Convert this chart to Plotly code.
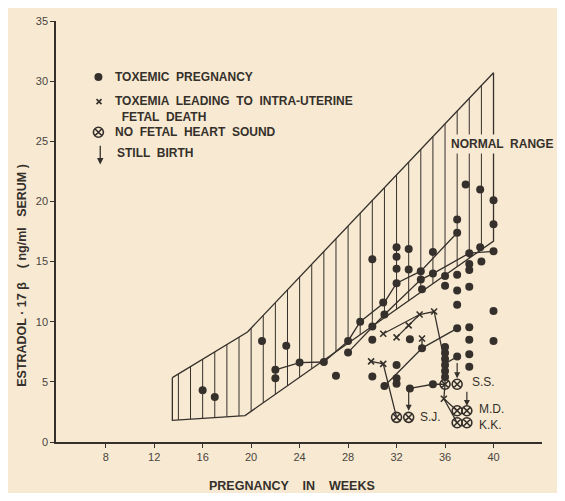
import numpy as np
import plotly.graph_objects as go

# ---------------- data ----------------
# normal range envelope
upper_weeks = [13.5, 19.7, 40.0]
upper_vals = [5.35, 9.15, 30.7]
lower_weeks = [13.5, 19.5, 40.0]
lower_vals = [1.8, 2.2, 16.7]
hatch_weeks = list(range(14, 40))

# toxemic pregnancy (filled dots)
dot_weeks = [16.0, 17.0, 20.9, 22.0, 22.0, 22.9, 24.0, 26.0, 27.0, 28.0, 28.0, 29.0,
             30.0, 30.0, 30.0, 30.0, 30.9, 31.0, 31.0,
             32.0, 32.0, 32.0, 32.0, 32.0, 32.0, 32.0,
             33.0, 33.0, 33.1, 33.1, 34.0, 34.0, 34.1, 34.1, 35.0, 35.0, 35.0,
             36.0, 36.0, 36.0, 36.0, 36.0, 36.0, 36.0, 36.0,
             37.0, 37.0, 37.0, 37.0, 37.0, 37.0, 37.0, 37.7,
             38.0, 38.0, 38.0, 38.0, 38.0, 38.0, 38.0, 38.0,
             38.9, 38.9, 39.0, 40.0, 40.0, 40.0, 40.0, 40.0]
dot_vals = [4.3, 3.75, 8.4, 6.0, 5.3, 8.0, 6.6, 6.65, 5.5, 8.4, 7.45, 10.0,
            15.2, 9.6, 8.5, 5.45, 11.6, 10.6, 4.65,
            16.2, 15.4, 14.4, 13.2, 6.4, 5.3, 4.85,
            16.05, 14.35, 8.55, 4.45, 14.2, 13.5, 12.7, 7.8, 15.8, 14.0, 4.8,
            13.8, 13.0, 7.9, 7.4, 6.9, 6.4, 5.9, 5.4,
            18.5, 17.4, 13.9, 12.6, 11.4, 9.45, 7.1, 21.4,
            15.7, 14.8, 14.3, 12.9, 9.55, 8.5, 7.3, 6.25,
            21.0, 16.2, 15.0, 20.1, 18.1, 15.85, 10.9, 8.4]

# toxemia leading to intra-uterine fetal death (x)
fd_weeks = [29.9, 30.9, 30.9, 32.0, 33.0, 33.9, 35.1, 34.1, 35.9]
fd_vals = [6.7, 6.5, 9.0, 8.7, 9.7, 10.6, 10.85, 8.6, 3.6]

# no fetal heart sound (circled x)
nfhs_weeks = [32.0, 33.0, 36.0, 37.0, 37.0, 37.8, 37.0, 37.8]
nfhs_vals = [2.05, 2.05, 4.8, 4.8, 2.6, 2.6, 1.6, 1.6]

# serial measurements (connected)
series = [
    ([22.0, 24.0, 26.0], [6.0, 6.6, 6.65]),
    ([26.0, 28.0, 29.0, 31.0, 32.0, 34.0, 37.0], [6.65, 8.4, 10.0, 11.6, 13.2, 14.2, 17.4]),
    ([28.0, 31.0, 34.0, 35.0, 38.0, 40.0], [7.45, 10.6, 13.5, 14.0, 15.7, 15.85]),
    ([30.9, 33.9, 35.1, 35.7, 36.0, 36.0, 35.9, 37.0], [9.0, 10.6, 10.85, 8.0, 6.5, 4.8, 3.6, 2.6]),
    ([32.0, 33.0, 33.9], [8.7, 9.7, 10.6]),
    ([29.9, 30.9, 32.0], [6.7, 6.5, 2.05]),
    ([31.0, 34.1, 34.1], [4.65, 7.8, 8.6]),
    ([34.1, 37.0], [7.8, 9.45]),
    ([33.1, 35.0, 36.0], [4.45, 4.8, 4.8]),
    ([36.0, 37.0], [6.5, 7.1]),
    ([35.9, 37.0], [3.6, 1.6]),
    ([36.0, 36.0], [7.9, 5.4]),
]

# still birth arrows: (week, from, to)
arrow_weeks = [33.0, 37.0, 37.8]
arrow_from = [4.4, 6.7, 4.3]
arrow_to = [2.6, 5.3, 3.0]

case_labels = ["S.J.", "S.S.", "M.D.<br>K.K."]
case_weeks = [33.8, 38.1, 38.6]
case_vals = [2.05, 4.95, 2.1]

x_ticks = [8, 12, 16, 20, 24, 28, 32, 36, 40]
y_ticks = [0, 5, 10, 15, 20, 25, 30, 35]

# ---------------- figure ----------------
BG = "#f8ead2"
INK = "#35302b"
FONT = "Liberation Sans"

fig = go.Figure()

# envelope outline
env_x = upper_weeks + lower_weeks[::-1] + [upper_weeks[0]]
env_y = upper_vals + lower_vals[::-1] + [upper_vals[0]]
fig.add_trace(go.Scatter(x=env_x, y=env_y, mode="lines",
                         line=dict(color=INK, width=1.3), hoverinfo="skip"))

# vertical hatching
hx, hy = [], []
for w in hatch_weeks:
    lo = float(np.interp(w, lower_weeks, lower_vals))
    hi = float(np.interp(w, upper_weeks, upper_vals))
    hx += [w, w, None]
    hy += [lo, hi, None]
fig.add_trace(go.Scatter(x=hx, y=hy, mode="lines",
                         line=dict(color=INK, width=1.0), hoverinfo="skip"))

# connecting lines
for sx, sy in series:
    fig.add_trace(go.Scatter(x=sx, y=sy, mode="lines",
                             line=dict(color=INK, width=1.3), hoverinfo="skip"))

# markers
fig.add_trace(go.Scatter(x=dot_weeks, y=dot_vals, mode="markers",
                         marker=dict(symbol="circle", size=8, color=INK)))
fig.add_trace(go.Scatter(x=fd_weeks, y=fd_vals, mode="markers",
                         marker=dict(symbol="x-thin-open", size=6, color=INK,
                                     line=dict(color=INK, width=1.6))))
fig.add_trace(go.Scatter(x=nfhs_weeks, y=nfhs_vals, mode="markers",
                         marker=dict(symbol="circle-x-open", size=10, color=INK,
                                     line=dict(color=INK, width=1.6))))

# legend symbols
fig.add_trace(go.Scatter(x=[7.4], y=[30.35], mode="markers",
                         marker=dict(symbol="circle", size=8, color=INK)))
fig.add_trace(go.Scatter(x=[7.45], y=[28.3], mode="markers",
                         marker=dict(symbol="x-thin-open", size=5, color=INK,
                                     line=dict(color=INK, width=1.6))))
fig.add_trace(go.Scatter(x=[7.4], y=[25.75], mode="markers",
                         marker=dict(symbol="circle-x-open", size=10, color=INK,
                                     line=dict(color=INK, width=1.6))))

annotations = []
tfont = dict(family=FONT, size=12, color=INK)
bfont = dict(family=FONT, size=12, color=INK, weight="bold")

legend_text = [
    (8.6, 30.35, "TOXEMIC  PREGNANCY"),
    (8.6, 27.7, "TOXEMIA  LEADING  TO  INTRA-UTERINE<br>&nbsp;&nbsp;FETAL  DEATH"),
    (8.6, 25.75, "NO  FETAL  HEART  SOUND"),
    (8.75, 24.0, "STILL  BIRTH"),
]
for lx, ly, lt in legend_text:
    annotations.append(dict(x=lx, y=ly, xref="x", yref="y", text=lt, showarrow=False,
                            xanchor="left", yanchor="middle", align="left", font=bfont))

# legend arrow
annotations.append(dict(x=7.55, y=23.06, ax=7.55, ay=24.75, xref="x", yref="y",
                        axref="x", ayref="y", text="", showarrow=True, arrowhead=2,
                        arrowsize=1, arrowwidth=1.3, arrowcolor=INK))

# still birth arrows
for aw, af, at in zip(arrow_weeks, arrow_from, arrow_to):
    annotations.append(dict(x=aw, y=at, ax=aw, ay=af, xref="x", yref="y",
                            axref="x", ayref="y", text="", showarrow=True, arrowhead=2,
                            arrowsize=1, arrowwidth=1.2, arrowcolor=INK))

for cl, cw, cv in zip(case_labels, case_weeks, case_vals):
    annotations.append(dict(x=cw, y=cv, xref="x", yref="y", text=cl, showarrow=False,
                            xanchor="left", yanchor="middle", align="left", font=tfont))

annotations.append(dict(x=40.7, y=24.8, xref="x", yref="y", text="NORMAL  RANGE",
                        showarrow=False, xanchor="center", yanchor="middle",
                        font=bfont, bgcolor=BG, borderpad=2))

annotations.append(dict(x=23.4, y=-0.105, xref="x", yref="paper",
                        text="PREGNANCY    IN    WEEKS", showarrow=False,
                        xanchor="center", yanchor="middle",
                        font=dict(family=FONT, size=12.5, color=INK, weight="bold")))
annotations.append(dict(x=-0.07, y=13.9, xref="paper", yref="y",
                        text="ESTRADOL · 17 β    ( ng/ml   SERUM )", showarrow=False,
                        textangle=-90, xanchor="center", yanchor="middle",
                        font=dict(family=FONT, size=12.5, color=INK, weight="bold")))

# the page body has an 8px default margin; size the figure to fit inside it
fig.update_layout(
    width=549, height=485,
    margin=dict(l=48, r=15, t=7, b=51),
    paper_bgcolor=BG, plot_bgcolor=BG,
    showlegend=False,
    annotations=annotations,
    xaxis=dict(range=[3.9, 44], tickvals=x_ticks, showgrid=False, zeroline=False,
               showline=True, linecolor=INK, linewidth=1.5, ticks="outside",
               ticklen=4, tickcolor=INK, tickfont=dict(family=FONT, size=11, color="#4a443e")),
    yaxis=dict(range=[0, 35], tickvals=y_ticks, showgrid=False, zeroline=False,
               showline=True, linecolor=INK, linewidth=1.5, ticks="outside",
               ticklen=4, tickcolor=INK, tickfont=dict(family=FONT, size=11, color="#4a443e")),
)

fig.write_html("out.html")
